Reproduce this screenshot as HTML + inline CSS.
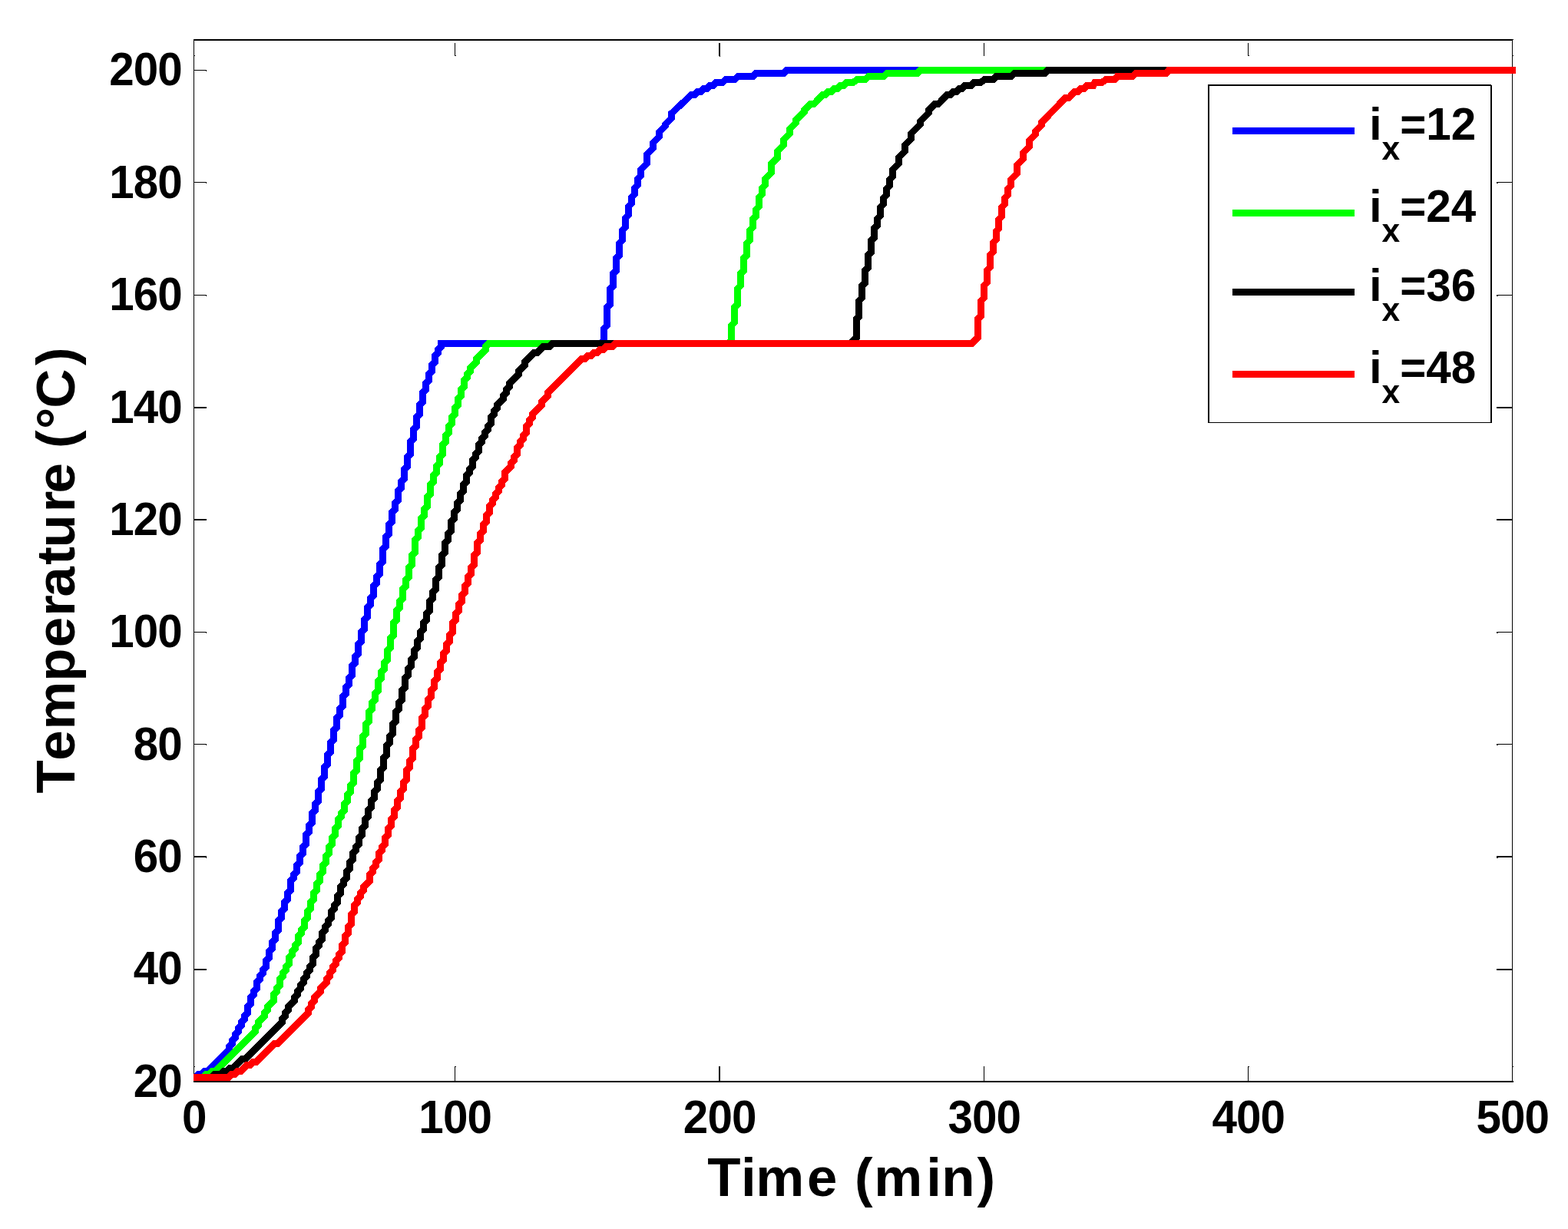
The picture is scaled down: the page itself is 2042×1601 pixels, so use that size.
<!DOCTYPE html>
<html lang="en"><head><meta charset="utf-8"><title>Temperature vs Time</title>
<style>html,body{margin:0;padding:0;background:#fff}body{width:2042px;height:1601px;overflow:hidden}svg{display:block}text{font-family:"Liberation Sans",Arial,Helvetica,sans-serif;font-weight:bold;fill:#000;font-kerning:none}</style></head><body>
<svg xmlns="http://www.w3.org/2000/svg" width="2042" height="1601" viewBox="0 0 2042 1601">
<rect width="2042" height="1601" fill="#fff"/>
<g fill="#000" shape-rendering="crispEdges">
<rect x="252" y="51" width="1" height="1359"/>
<rect x="1969" y="51" width="1" height="1359"/>
<rect x="252" y="51" width="1718" height="2"/>
<rect x="252" y="1408" width="1719" height="2"/>
<rect x="592" y="1389" width="1" height="19"/>
<rect x="592" y="56" width="1" height="17"/>
<rect x="593" y="1389" width="1" height="1"/>
<rect x="593" y="72" width="1" height="1"/>
<rect x="936" y="1389" width="2" height="19"/>
<rect x="936" y="56" width="2" height="17"/>
<rect x="1281" y="1389" width="1" height="19"/>
<rect x="1281" y="56" width="1" height="17"/>
<rect x="1625" y="1389" width="1" height="19"/>
<rect x="1625" y="56" width="1" height="17"/>
<rect x="1626" y="1389" width="1" height="1"/>
<rect x="1626" y="72" width="1" height="1"/>
<rect x="937" y="72" width="1" height="1.5"/>
<rect x="253" y="91" width="16" height="1"/>
<rect x="1949" y="91" width="20" height="1"/>
<rect x="268" y="92" width="1" height="1"/>
<rect x="1949" y="92" width="2" height="1"/>
<rect x="253" y="237" width="16" height="1"/>
<rect x="1949" y="237" width="20" height="1"/>
<rect x="268" y="238" width="1" height="1"/>
<rect x="1949" y="238" width="2" height="1"/>
<rect x="253" y="384" width="16" height="1"/>
<rect x="1949" y="384" width="20" height="1"/>
<rect x="268" y="385" width="1" height="1"/>
<rect x="1949" y="385" width="2" height="1"/>
<rect x="253" y="530" width="16" height="2"/>
<rect x="1949" y="530" width="20" height="2"/>
<rect x="253" y="676" width="16" height="2"/>
<rect x="1949" y="676" width="20" height="2"/>
<rect x="253" y="823" width="16" height="1"/>
<rect x="1949" y="823" width="20" height="1"/>
<rect x="268" y="824" width="1" height="1"/>
<rect x="1949" y="824" width="2" height="1"/>
<rect x="253" y="969" width="16" height="1"/>
<rect x="1949" y="969" width="20" height="1"/>
<rect x="268" y="970" width="1" height="1"/>
<rect x="1949" y="970" width="2" height="1"/>
<rect x="253" y="1115" width="16" height="2"/>
<rect x="1949" y="1115" width="20" height="2"/>
<rect x="268" y="1117" width="1" height="1"/>
<rect x="1949" y="1117" width="2" height="1"/>
<rect x="253" y="1262" width="16" height="2"/>
<rect x="1949" y="1262" width="20" height="2"/>
<rect x="253" y="72" width="1" height="1"/>
<rect x="253" y="1389" width="1" height="1"/>
<rect x="1970" y="72" width="1" height="1"/>
<rect x="1970" y="1389" width="1" height="1"/>
<rect x="1970" y="51" width="1" height="1"/>
<rect x="1970" y="1409" width="1" height="1"/>
</g>
<clipPath id="axclip"><rect x="252" y="50" width="1722" height="1359"/></clipPath>
<g shape-rendering="crispEdges" clip-path="url(#axclip)">
<polyline fill="none" stroke="#0000ff" stroke-width="8.8" stroke-linejoin="miter" stroke-miterlimit="10" points="252,1403.6 254.5,1403.6 258.5,1399.6 262.5,1399.6 266.5,1395.6 270.5,1395.6 298.5,1367.6 298.5,1363.6 302.5,1359.6 302.5,1355.6 306.5,1351.6 306.5,1347.6 310.5,1343.6 310.5,1339.6 314.5,1335.6 314.5,1331.6 318.5,1327.6 318.5,1323.6 322.5,1319.6 322.5,1311.6 326.5,1307.6 326.5,1299.6 330.5,1295.6 330.5,1291.6 334.5,1287.6 334.5,1279.6 338.5,1275.6 338.5,1271.6 342.5,1267.6 342.5,1263.6 346.5,1259.6 346.5,1251.6 350.5,1247.6 350.5,1239.6 354.5,1235.6 354.5,1227.6 358.5,1223.6 358.5,1215.6 362.5,1211.6 362.5,1199.6 366.5,1195.6 366.5,1187.6 370.5,1183.6 370.5,1175.6 374.5,1171.6 374.5,1163.6 378.5,1159.6 378.5,1147.6 382.5,1143.6 382.5,1139.6 386.5,1135.6 386.5,1127.6 390.5,1123.6 390.5,1115.6 394.5,1111.6 394.5,1103.6 398.5,1099.6 398.5,1087.6 402.5,1083.6 402.5,1075.6 406.5,1071.6 406.5,1059.6 410.5,1055.6 410.5,1047.6 414.5,1043.6 414.5,1031.6 418.5,1027.6 418.5,1015.6 422.5,1011.6 422.5,999.6 426.5,995.6 426.5,983.6 430.5,979.6 430.5,967.6 434.5,963.6 434.5,951.6 438.5,947.6 438.5,935.6 442.5,931.6 442.5,923.6 446.5,919.6 446.5,907.6 450.5,903.6 450.5,895.6 454.5,891.6 454.5,883.6 458.5,879.6 458.5,867.6 462.5,863.6 462.5,855.6 466.5,851.6 466.5,839.6 470.5,835.6 470.5,823.6 474.5,819.6 474.5,807.6 478.5,803.6 478.5,791.6 482.5,787.6 482.5,779.6 486.5,775.6 486.5,763.6 490.5,759.6 490.5,751.6 494.5,747.6 494.5,735.6 498.5,731.6 498.5,715.6 502.5,711.6 502.5,699.6 506.5,695.6 506.5,683.6 510.5,679.6 510.5,667.6 514.5,663.6 514.5,655.6 518.5,651.6 518.5,639.6 522.5,635.6 522.5,627.6 526.5,623.6 526.5,611.6 530.5,607.6 530.5,595.6 534.5,591.6 534.5,575.6 538.5,571.6 538.5,559.6 542.5,555.6 542.5,543.6 546.5,539.6 546.5,527.6 550.5,523.6 550.5,511.6 554.5,507.6 554.5,499.6 558.5,495.6 558.5,487.6 562.5,483.6 562.5,475.6 566.5,471.6 566.5,463.6 570.5,459.6 570.5,455.6 574.5,451.6 574.5,447.6 782.5,447.6 786.5,443.6 786.5,428 790.6,423.9 790.6,400.3 794.6,396.3 794.6,376.3 798.6,372.3 798.6,356.5 802.6,352.5 802.6,336.5 806.6,332.5 806.6,317 810.6,313 810.6,300 814.6,296 814.6,284 818.6,280 818.6,269 822.6,265 822.6,257 826.6,253 826.6,245 830.6,241 830.6,233 834.6,229 834.6,221 842.6,213 842.6,201 850.6,193 850.6,186 858.6,178 858.6,172 866.6,164 866.6,162 874.6,154 874.6,147.6 900.3,123.6 904.8,123.6 908.3,119.6 912.8,119.6 916.3,115.6 920.8,115.6 924.3,111.6 928.8,111.6 932.3,107.6 940.8,107.6 945.3,103.6 956.8,103.6 961.3,99.6 980.8,99.6 984.3,95.6 1020.8,95.6 1024.3,91.6 1973.8,91.6"/>
<polyline fill="none" stroke="#00ff00" stroke-width="8.8" stroke-linejoin="miter" stroke-miterlimit="10" points="252,1403.6 264.6,1403.6 268.6,1399.6 272.6,1399.6 276.6,1395.6 280.6,1395.6 332.6,1343.6 332.6,1339.6 336.6,1335.6 336.6,1331.6 344.6,1323.6 344.6,1319.6 348.6,1315.6 348.6,1311.6 356.6,1303.6 356.6,1295.6 360.6,1291.6 360.6,1287.6 364.6,1283.6 364.6,1275.6 368.6,1271.6 368.6,1267.6 372.6,1263.6 372.6,1259.6 376.6,1255.6 376.6,1247.6 380.6,1243.6 380.6,1239.6 384.6,1235.6 384.6,1231.6 388.6,1227.6 388.6,1219.6 392.6,1215.6 392.6,1211.6 396.6,1207.6 396.6,1199.6 400.6,1195.6 400.6,1187.6 404.6,1183.6 404.6,1175.6 408.6,1171.6 408.6,1163.6 412.6,1159.6 412.6,1151.6 416.6,1147.6 416.6,1139.6 420.6,1135.6 420.6,1127.6 424.6,1123.6 424.6,1115.6 428.6,1111.6 428.6,1103.6 432.6,1099.6 432.6,1091.6 436.6,1087.6 436.6,1079.6 440.6,1075.6 440.6,1067.6 444.6,1063.6 444.6,1059.6 448.6,1055.6 448.6,1047.6 452.6,1043.6 452.6,1035.6 456.6,1031.6 456.6,1023.6 460.6,1019.6 460.6,1007.6 464.6,1003.6 464.6,991.6 468.6,987.6 468.6,975.6 472.6,971.6 472.6,959.6 476.6,955.6 476.6,943.6 480.6,939.6 480.6,927.6 484.6,923.6 484.6,915.6 488.6,911.6 488.6,903.6 492.6,899.6 492.6,887.6 496.6,883.6 496.6,875.6 500.6,871.6 500.6,863.6 504.6,859.6 504.6,847.6 508.6,843.6 508.6,831.6 512.6,827.6 512.6,811.6 516.6,807.6 516.6,795.6 520.6,791.6 520.6,783.6 524.6,779.6 524.6,767.6 528.6,763.6 528.6,755.6 532.6,751.6 532.6,739.6 536.6,735.6 536.6,723.6 540.6,719.6 540.6,703.6 544.6,699.6 544.6,691.6 548.6,687.6 548.6,675.6 552.6,671.6 552.6,663.6 556.6,659.6 556.6,647.6 560.6,643.6 560.6,631.6 564.6,627.6 564.6,619.6 568.6,615.6 568.6,607.6 572.6,603.6 572.6,595.6 576.6,591.6 576.6,579.6 580.6,575.6 580.6,567.6 584.6,563.6 584.6,555.6 588.6,551.6 588.6,543.6 592.6,539.6 592.6,531.6 596.6,527.6 596.6,519.6 600.6,515.6 600.6,507.6 604.6,503.6 604.6,495.6 608.6,491.6 608.6,487.6 612.6,483.6 612.6,479.6 620.6,471.6 620.6,467.6 632.6,455.6 632.6,451.6 636.6,447.6 948.6,447.6 952.6,443.6 952.6,423.8 956.6,419.8 956.6,400.3 960.6,396.3 960.6,376 964.6,372 964.6,356.5 968.6,352.5 968.6,336.5 972.6,332.5 972.6,317 976.6,313 976.6,300 980.6,296 980.6,285.5 984.6,281.5 984.6,273 988.6,269 988.6,257 992.6,253 992.6,245 996.6,241 996.6,233 1004.6,225 1004.6,213.5 1012.6,205.5 1012.6,197 1020.6,189 1020.6,182 1028.6,174 1028.6,168 1036.1,160.5 1036.1,157 1047.6,145.5 1047.6,143.6 1055.3,135.6 1059.8,135.6 1071.3,123.6 1074.8,123.6 1078.3,119.6 1082.8,119.6 1086.3,115.6 1090.8,115.6 1094.3,111.6 1098.8,111.6 1102.3,107.6 1110.8,107.6 1116.3,103.6 1126.8,103.6 1131.3,99.6 1150.8,99.6 1154.8,95.6 1194.8,95.6 1198.3,91.6 1973.8,91.6"/>
<polyline fill="none" stroke="#000000" stroke-width="8.8" stroke-linejoin="miter" stroke-miterlimit="10" points="252,1403.6 275.6,1403.6 279.6,1399.6 287.6,1399.6 291.6,1395.6 295.6,1395.6 299.6,1391.6 303.6,1391.6 315.6,1379.6 319.6,1379.6 367.6,1331.6 367.6,1327.6 371.6,1323.6 371.6,1319.6 375.6,1315.6 375.6,1311.6 383.6,1303.6 383.6,1299.6 387.6,1295.6 387.6,1291.6 391.6,1287.6 391.6,1283.6 395.6,1279.6 395.6,1275.6 399.6,1271.6 399.6,1267.6 403.6,1263.6 403.6,1259.6 407.6,1255.6 407.6,1247.6 411.6,1243.6 411.6,1235.6 415.6,1231.6 415.6,1227.6 419.6,1223.6 419.6,1215.6 423.6,1211.6 423.6,1207.6 427.6,1203.6 427.6,1199.6 431.6,1195.6 431.6,1187.6 435.6,1183.6 435.6,1179.6 439.6,1175.6 439.6,1167.6 443.6,1163.6 443.6,1155.6 447.6,1151.6 447.6,1147.6 451.6,1143.6 451.6,1135.6 455.6,1131.6 455.6,1123.6 459.6,1119.6 459.6,1111.6 463.6,1107.6 463.6,1103.6 467.6,1099.6 467.6,1091.6 471.6,1087.6 471.6,1079.6 475.6,1075.6 475.6,1067.6 479.6,1063.6 479.6,1055.6 483.6,1051.6 483.6,1043.6 487.6,1039.6 487.6,1031.6 491.6,1027.6 491.6,1019.6 495.6,1015.6 495.6,1003.6 499.6,999.6 499.6,987.6 503.6,983.6 503.6,971.6 507.6,967.6 507.6,959.6 511.6,955.6 511.6,943.6 515.6,939.6 515.6,927.6 519.6,923.6 519.6,915.6 523.6,911.6 523.6,899.6 527.6,895.6 527.6,883.6 531.6,879.6 531.6,871.6 535.6,867.6 535.6,859.6 539.6,855.6 539.6,847.6 543.6,843.6 543.6,835.6 547.6,831.6 547.6,823.6 551.6,819.6 551.6,811.6 555.6,807.6 555.6,799.6 559.6,795.6 559.6,783.6 563.6,779.6 563.6,771.6 567.6,767.6 567.6,755.6 571.6,751.6 571.6,739.6 575.6,735.6 575.6,723.6 579.6,719.6 579.6,707.6 583.6,703.6 583.6,695.6 587.6,691.6 587.6,679.6 591.6,675.6 591.6,667.6 595.6,663.6 595.6,655.6 599.6,651.6 599.6,643.6 603.6,639.6 603.6,631.6 607.6,627.6 607.6,619.6 611.6,615.6 611.6,611.6 615.6,607.6 615.6,599.6 619.6,595.6 619.6,591.6 623.6,587.6 623.6,579.6 627.6,575.6 627.6,571.6 631.6,567.6 631.6,563.6 635.6,559.6 635.6,555.6 639.6,551.6 639.6,543.6 643.6,539.6 643.6,535.6 647.6,531.6 647.6,527.6 655.6,519.6 655.6,515.6 659.6,511.6 659.6,507.6 663.6,503.6 663.6,499.6 675.6,487.6 675.6,483.6 683.6,475.6 683.6,471.6 695.6,459.6 699.6,459.6 707.6,451.6 715.6,451.6 719.6,447.6 1107.6,447.6 1115.6,439.6 1115.6,415.3 1118.6,412.3 1118.6,392 1122.6,388 1122.6,372.5 1126.6,368.5 1126.6,352.5 1130.6,348.5 1130.6,332.5 1134.6,328.5 1134.6,313.5 1138.6,309.5 1138.6,297.5 1142.6,293.5 1142.6,284.8 1146.6,280.8 1146.6,269.8 1150.6,265.8 1150.6,257.8 1154.6,253.8 1154.6,245.8 1158.6,241.8 1158.6,233.8 1162.6,229.8 1162.6,220.8 1170.6,212.8 1170.6,204.8 1178.6,196.8 1178.6,188.8 1186.6,180.8 1186.6,173.8 1198.6,161.8 1198.6,157.8 1209.6,146.8 1209.6,143.6 1217.3,135.6 1221.8,135.6 1233.3,123.6 1237.8,123.6 1241.3,119.6 1245.8,119.6 1249.3,115.6 1252.8,115.6 1256.3,111.6 1264.8,111.6 1268.3,107.6 1276.8,107.6 1282.3,103.6 1293.8,103.6 1297.3,99.6 1316.8,99.6 1320.8,95.6 1360.8,95.6 1364.3,91.6 1973.8,91.6"/>
<polyline fill="none" stroke="#ff0000" stroke-width="8.8" stroke-linejoin="miter" stroke-miterlimit="10" points="252,1403.6 297.6,1403.6 301.6,1399.6 305.6,1399.6 309.6,1395.6 313.6,1395.6 321.6,1387.6 325.6,1387.6 329.6,1383.6 333.6,1383.6 357.6,1359.6 361.6,1359.6 401.6,1319.6 401.6,1315.6 405.6,1311.6 405.6,1307.6 409.6,1303.6 409.6,1299.6 417.6,1291.6 417.6,1287.6 425.6,1279.6 425.6,1275.6 429.6,1271.6 429.6,1267.6 433.6,1263.6 433.6,1259.6 437.6,1255.6 437.6,1251.6 441.6,1247.6 441.6,1243.6 445.6,1239.6 445.6,1231.6 449.6,1227.6 449.6,1219.6 453.6,1215.6 453.6,1207.6 457.6,1203.6 457.6,1191.6 461.6,1187.6 461.6,1179.6 465.6,1175.6 465.6,1171.6 469.6,1167.6 469.6,1163.6 473.6,1159.6 473.6,1155.6 481.6,1147.6 481.6,1139.6 485.6,1135.6 485.6,1131.6 489.6,1127.6 489.6,1123.6 493.6,1119.6 493.6,1111.6 497.6,1107.6 497.6,1103.6 501.6,1099.6 501.6,1091.6 505.6,1087.6 505.6,1079.6 509.6,1075.6 509.6,1067.6 513.6,1063.6 513.6,1055.6 517.6,1051.6 517.6,1043.6 521.6,1039.6 521.6,1031.6 525.6,1027.6 525.6,1019.6 529.6,1015.6 529.6,1003.6 533.6,999.6 533.6,991.6 537.6,987.6 537.6,975.6 541.6,971.6 541.6,963.6 545.6,959.6 545.6,951.6 549.6,947.6 549.6,935.6 553.6,931.6 553.6,923.6 557.6,919.6 557.6,911.6 561.6,907.6 561.6,899.6 565.6,895.6 565.6,887.6 569.6,883.6 569.6,875.6 573.6,871.6 573.6,863.6 577.6,859.6 577.6,851.6 581.6,847.6 581.6,839.6 585.6,835.6 585.6,827.6 589.6,823.6 589.6,811.6 593.6,807.6 593.6,799.6 597.6,795.6 597.6,787.6 601.6,783.6 601.6,775.6 605.6,771.6 605.6,763.6 609.6,759.6 609.6,751.6 613.6,747.6 613.6,739.6 617.6,735.6 617.6,723.6 621.6,719.6 621.6,707.6 625.6,703.6 625.6,695.6 629.6,691.6 629.6,683.6 633.6,679.6 633.6,671.6 637.6,667.6 637.6,659.6 641.6,655.6 641.6,651.6 645.6,647.6 645.6,643.6 649.6,639.6 649.6,635.6 653.6,631.6 653.6,627.6 657.6,623.6 657.6,615.6 665.6,607.6 665.6,603.6 669.6,599.6 669.6,595.6 673.6,591.6 673.6,583.6 677.6,579.6 677.6,575.6 681.6,571.6 681.6,567.6 685.6,563.6 685.6,555.6 689.6,551.6 689.6,547.6 693.6,543.6 693.6,539.6 705.6,527.6 705.6,523.6 713.6,515.6 713.6,511.6 757.6,467.6 761.6,467.6 765.6,463.6 769.6,463.6 773.6,459.6 777.6,459.6 781.6,455.6 785.6,455.6 789.6,451.6 797.6,451.6 801.6,447.6 1265.6,447.6 1273.6,439.6 1273.6,415.5 1277.6,411.5 1277.6,392 1281.6,388 1281.6,372 1285.6,368 1285.6,352 1289.6,348 1289.6,332 1293.6,328 1293.6,316 1297.6,312 1297.6,301 1300.6,298 1300.6,286 1304.6,282 1304.6,270 1308.6,266 1308.6,258 1312.6,254 1312.6,246 1316.6,242 1316.6,234 1324.6,226 1324.6,215 1332.6,207 1332.6,199 1340.6,191 1340.6,183 1348.6,175 1348.6,171 1356.6,163 1356.6,159.6 1387.3,127.6 1391.8,127.6 1399.3,119.6 1403.8,119.6 1407.3,115.6 1411.8,115.6 1415.3,111.6 1423.8,111.6 1425.8,107.6 1434.8,107.6 1440.3,103.6 1451.8,103.6 1454.8,99.6 1474.8,99.6 1479.3,95.6 1518.8,95.6 1521.8,91.6 1973.8,91.6"/>
</g>
<g font-size="58.33">
<text transform="translate(173.82 1428.5) scale(1 1.04)" letter-spacing="-0.9">20</text>
<text transform="translate(173.82 1282.17) scale(1 1.04)" letter-spacing="-0.9">40</text>
<text transform="translate(173.82 1135.83) scale(1 1.04)" letter-spacing="-0.9">60</text>
<text transform="translate(173.82 989.5) scale(1 1.04)" letter-spacing="-0.9">80</text>
<text transform="translate(142.28 843.16) scale(1 1.04)" letter-spacing="-0.9">100</text>
<text transform="translate(142.28 696.83) scale(1 1.04)" letter-spacing="-0.9">120</text>
<text transform="translate(142.28 550.5) scale(1 1.04)" letter-spacing="-0.9">140</text>
<text transform="translate(142.28 404.16) scale(1 1.04)" letter-spacing="-0.9">160</text>
<text transform="translate(142.28 257.83) scale(1 1.04)" letter-spacing="-0.9">180</text>
<text transform="translate(142.28 111.49) scale(1 1.04)" letter-spacing="-0.9">200</text>
<text transform="translate(236.88 1476) scale(1 1.04)" letter-spacing="-0.9">0</text>
<text transform="translate(545.34 1476) scale(1 1.04)" letter-spacing="-0.9">100</text>
<text transform="translate(889.84 1476) scale(1 1.04)" letter-spacing="-0.9">200</text>
<text transform="translate(1234.44 1476) scale(1 1.04)" letter-spacing="-0.9">300</text>
<text transform="translate(1578.54 1476) scale(1 1.04)" letter-spacing="-0.9">400</text>
<text transform="translate(1922.54 1476) scale(1 1.04)" letter-spacing="-0.9">500</text>
</g>
<text font-size="70.83" y="1557.9" x="921.3 965 984.3 1050.9 1090.3 1113 1138.3 1206.2 1226.2 1272.4">Time (min)</text>
<text font-size="70.83" transform="translate(97.4 1032.9) rotate(-90)" x="-0.65 42.1 82.4 145.1 189.6 230.2 255.3 297.1 319.5 365.6 390.3 430 448.9 473.9 501.2 556.9">Temperature (°C)</text>
<g shape-rendering="crispEdges">
<rect x="1573" y="110" width="370" height="441" fill="#fff"/>
<g fill="#000"><rect x="1573" y="110" width="2" height="441"/><rect x="1573" y="110" width="369" height="2"/><rect x="1941" y="111" width="2" height="440"/><rect x="1573" y="550" width="370" height="1"/></g>
<rect x="1605" y="166" width="159" height="8.8" fill="#0000ff"/>
<rect x="1605" y="273.1" width="159" height="8.8" fill="#00ff00"/>
<rect x="1605" y="376.2" width="159" height="8.8" fill="#000000"/>
<rect x="1605" y="483.1" width="159" height="8.8" fill="#ff0000"/>
</g>
<g font-size="58.33">
<text x="1783.3" y="181.5">i<tspan font-size="42.5" dy="26">x</tspan><tspan dy="-26">=12</tspan></text>
<text x="1783.3" y="288.6">i<tspan font-size="42.5" dy="26">x</tspan><tspan dy="-26">=24</tspan></text>
<text x="1783.3" y="391.7">i<tspan font-size="42.5" dy="26">x</tspan><tspan dy="-26">=36</tspan></text>
<text x="1783.3" y="498.6">i<tspan font-size="42.5" dy="26">x</tspan><tspan dy="-26">=48</tspan></text>
</g>
</svg></body></html>
